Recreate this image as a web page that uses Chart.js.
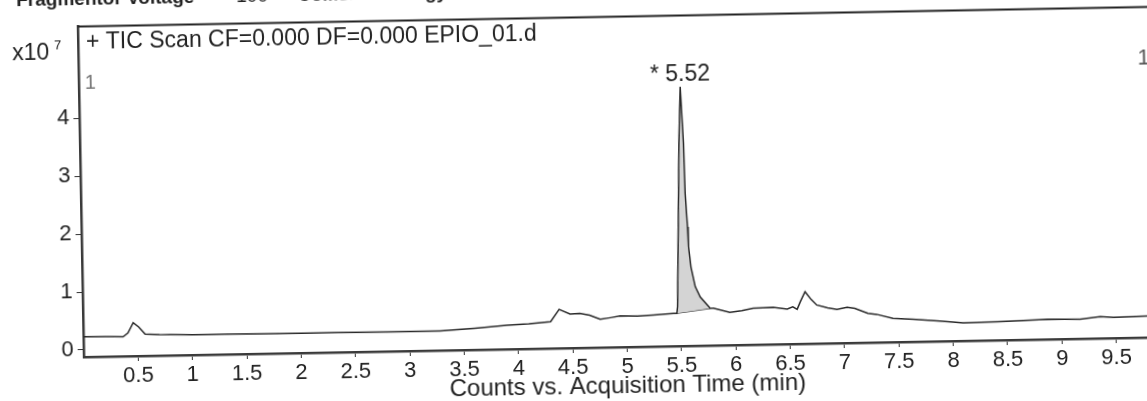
<!DOCTYPE html>
<html>
<head>
<meta charset="utf-8">
<script src="https://cdn.jsdelivr.net/npm/chart.js@4"></script>
<style>
    html, body { margin: 0; padding: 0; background: #fff; overflow: hidden; width: 1147px; height: 401px; }
    /* the scan is slightly tilted, so the whole chart is turned a little */
    #wrap { position: absolute; left: 0; top: -30px; width: 1180px; height: 440px;
            transform-origin: 573px 230px; transform: rotate(-1.05deg); }
</style>
</head>
<body>
<div id="wrap"><canvas id="tic" width="1180" height="440"></canvas></div>
<script>
// acquisition time (min) and counts (x10^7)
const times = [0, 0.2, 0.365, 0.41, 0.46, 0.51, 0.568, 0.7, 1.0, 1.3,
    1.81, 2.3, 2.8, 3.28, 3.6, 3.9, 4.1, 4.3, 4.38, 4.48,
    4.57, 4.66, 4.756, 4.85, 4.94, 5.1, 5.245, 5.43, 5.463, 5.47,
    5.498, 5.51, 5.531, 5.552, 5.559, 5.575, 5.581, 5.6, 5.636, 5.68,
    5.77, 5.8, 5.95, 6.06, 6.165, 6.35, 6.478, 6.53, 6.57, 6.6,
    6.645, 6.7, 6.75, 6.85, 6.936, 7.03, 7.1, 7.22, 7.3, 7.45,
    7.636, 7.88, 8.095, 8.41, 8.65, 8.87, 9.17, 9.357, 9.477, 9.79, 10.0];
const counts = [0.23, 0.225, 0.215, 0.28, 0.455, 0.38, 0.255, 0.24, 0.23, 0.23,
    0.22, 0.22, 0.215, 0.215, 0.25, 0.295, 0.31, 0.34, 0.55, 0.466,
    0.475, 0.44, 0.366, 0.39, 0.416, 0.41, 0.423, 0.446, 0.445, 0.56,
    2.51, 3.38, 4.35, 3.37, 2.51, 1.93, 1.59, 1.24, 0.9, 0.72,
    0.521, 0.52, 0.445, 0.47, 0.507, 0.518, 0.484, 0.52, 0.476, 0.606,
    0.777, 0.64, 0.544, 0.49, 0.463, 0.495, 0.475, 0.385, 0.364, 0.29,
    0.267, 0.23, 0.19, 0.2, 0.21, 0.225, 0.214, 0.253, 0.238, 0.25, 0.26];

// integration baseline under the main peak
const peakBaseTimes = [5.463, 5.77];
const peakBaseCounts = [0.445, 0.521];

const xTicks = [0.5, 1, 1.5, 2, 2.5, 3, 3.5, 4, 4.5, 5, 5.5, 6, 6.5, 7, 7.5, 8, 8.5, 9, 9.5];
const yTicks = [0, 1, 2, 3, 4];

const header = [
    { text: 'Fragmentor Voltage', x: 20, bold: true },
    { text: '100', x: 240, bold: false },
    { text: 'Collision Energy', x: 301, bold: true },
    { text: '0', x: 540, bold: false },
];
const traceTitle = '+ TIC Scan CF=0.000 DF=0.000 EPIO_01.d';
const peakLabel = '* 5.52';
const xTitle = 'Counts vs. Acquisition Time (min)';

const FONT = '"Liberation Sans", Arial, sans-serif';

const toPoints = (xs, ys) => xs.map((x, i) => ({ x, y: ys[i] }));
const trace = toPoints(times, counts);
const peak = trace.filter(p => p.x >= peakBaseTimes[0] && p.x <= peakBaseTimes[1]);

const textPlugin = {
    id: 'texts',
    afterDraw(chart) {
        const { ctx, chartArea: area, scales } = chart;
        ctx.save();

        // top frame line
        ctx.strokeStyle = '#222';
        ctx.lineWidth = 2;
        ctx.beginPath();
        ctx.moveTo(area.left, area.top);
        ctx.lineTo(area.right, area.top);
        ctx.stroke();

        ctx.fillStyle = '#222';
        ctx.textBaseline = 'alphabetic';
        ctx.textAlign = 'left';
        for (const h of header) {
            ctx.font = (h.bold ? 'bold ' : '') + '19px ' + FONT;
            ctx.fillText(h.text, h.x, 26);
        }

        ctx.textBaseline = 'middle';
        ctx.font = '23px ' + FONT;
        ctx.fillText(traceTitle, 89, 64);

        ctx.font = '23px ' + FONT;
        ctx.fillText('x10', 15, 74);
        ctx.font = '13px ' + FONT;
        ctx.fillText('7', 57, 66);

        // peak label over the apex
        const top = counts.indexOf(Math.max(...counts));
        const px = scales.x.getPixelForValue(times[top]);
        const py = scales.y.getPixelForValue(counts[top]);
        ctx.font = '23px ' + FONT;
        ctx.textAlign = 'center';
        ctx.textBaseline = 'alphabetic';
        ctx.fillText(peakLabel, px, py - 6);

        ctx.textBaseline = 'middle';
        ctx.textAlign = 'left';
        ctx.fillStyle = '#777';
        ctx.font = '20px ' + FONT;
        ctx.fillText('1', 87, 104);
        ctx.fillStyle = '#555';
        ctx.font = '22px ' + FONT;
        ctx.fillText('1', 1140, 99);

        ctx.restore();
    },
};

new Chart(document.getElementById('tic'), {
    type: 'line',
    data: {
        datasets: [
            {
                data: trace,
                borderColor: '#2a2a2a',
                borderWidth: 1.5,
                pointRadius: 0,
                tension: 0,
                fill: false,
            },
            {
                data: peak,
                borderWidth: 0,
                borderColor: 'rgba(0,0,0,0)',
                pointRadius: 0,
                backgroundColor: '#d4d4d4',
                fill: 2,
            },
            {
                data: toPoints(peakBaseTimes, peakBaseCounts),
                borderColor: '#333',
                borderWidth: 1.2,
                pointRadius: 0,
                fill: false,
            },
        ],
    },
    options: {
        responsive: false,
        animation: false,
        devicePixelRatio: 1,
        layout: { padding: { left: 0, top: 47.5, right: 12, bottom: 0 } },
        plugins: { legend: { display: false }, tooltip: { enabled: false } },
        scales: {
            x: {
                type: 'linear',
                min: 0,
                max: 10,
                afterBuildTicks: s => { s.ticks = xTicks.map(v => ({ value: v })); },
                afterFit: s => { s.height = 62; },
                grid: { drawOnChartArea: false, drawTicks: true, tickLength: 5, tickColor: '#333' },
                border: { color: '#3a3a3a', width: 2.5 },
                ticks: {
                    padding: 2,
                    color: '#222',
                    font: { family: FONT, size: 22 },
                    maxRotation: 0,
                    autoSkip: false,
                    callback: v => String(v),
                },
                title: {
                    display: true,
                    text: xTitle,
                    color: '#222',
                    font: { family: FONT, size: 24 },
                    padding: { top: 0, bottom: 8.6 },
                },
            },
            y: {
                type: 'linear',
                min: -0.1207,
                max: 5.578,
                afterBuildTicks: s => { s.ticks = yTicks.map(v => ({ value: v })); },
                afterFit: s => { s.width = 81; },
                grid: { drawOnChartArea: false, drawTicks: true, tickLength: 6, tickColor: '#333' },
                border: { color: '#3a3a3a', width: 2.5 },
                ticks: {
                    padding: 4,
                    color: '#222',
                    font: { family: FONT, size: 22 },
                    callback: v => String(v),
                },
            },
        },
    },
    plugins: [textPlugin],
});
</script>
</body>
</html>
